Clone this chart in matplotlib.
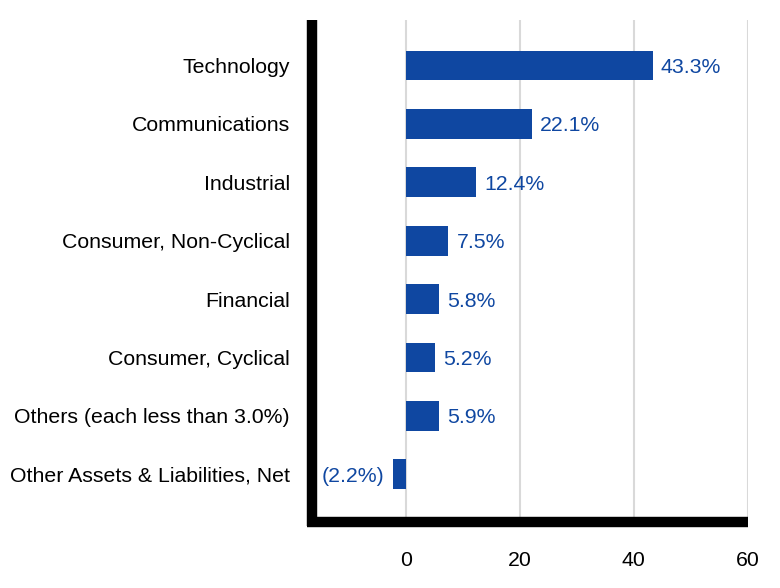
import matplotlib.pyplot as plt
import numpy as np

plt.rcParams['font.family'] = ['Liberation Sans', 'DejaVu Sans']

# sector allocation (percent of net assets)
sectors = ['Technology', 'Communications', 'Industrial', 'Consumer, Non-Cyclical',
           'Financial', 'Consumer, Cyclical', 'Others (each less than 3.0%)',
           'Other Assets & Liabilities, Net']
values = [43.3, 22.1, 12.4, 7.5, 5.8, 5.2, 5.9, -2.2]
labels = ['43.3%', '22.1%', '12.4%', '7.5%', '5.8%', '5.2%', '5.9%', '(2.2%)']
xticks = [0, 20, 40, 60]

blue = '#0f47a1'
fs = 15.3

fig = plt.figure(figsize=(7.8, 5.88), dpi=100)
ax = fig.add_axes([312/780, 1 - 522/588, (748-312)/780, (522-20)/588])

y = np.arange(len(sectors))
ax.barh(y, values, height=0.51, color=blue, zorder=3)

for yi, v, lab in zip(y, values, labels):
    if v >= 0:
        ax.text(v + 1.4, yi, lab, va='center_baseline', ha='left', color=blue, fontsize=fs)
    else:
        ax.text(v - 1.6, yi, lab, va='center_baseline', ha='right', color=blue, fontsize=fs)

ax.set_xlim(-16.4, 60)
ax.set_ylim(7.82, -0.78)
ax.set_yticks(y)
ax.set_yticklabels(sectors, fontsize=fs)
ax.set_xticks(xticks)
ax.set_xticklabels([str(t) for t in xticks], fontsize=fs)
ax.tick_params(axis='both', length=0)
ax.tick_params(axis='x', pad=21)
ax.tick_params(axis='y', pad=16)

ax.grid(axis='x', color='#d9d9d9', linewidth=1.5, zorder=0)
ax.set_axisbelow(True)

for s in ['top', 'right']:
    ax.spines[s].set_visible(False)
for s in ['left', 'bottom']:
    ax.spines[s].set_linewidth(7.5)
    ax.spines[s].set_color('black')
    ax.spines[s].set_capstyle('butt')
# stretch the spines a little so the corner is closed
ax.spines['left'].set_bounds(7.82 + 0.065, -0.78)
ax.spines['bottom'].set_bounds(-16.4 - 0.85, 60)

fig.savefig('out.png', dpi=100)
